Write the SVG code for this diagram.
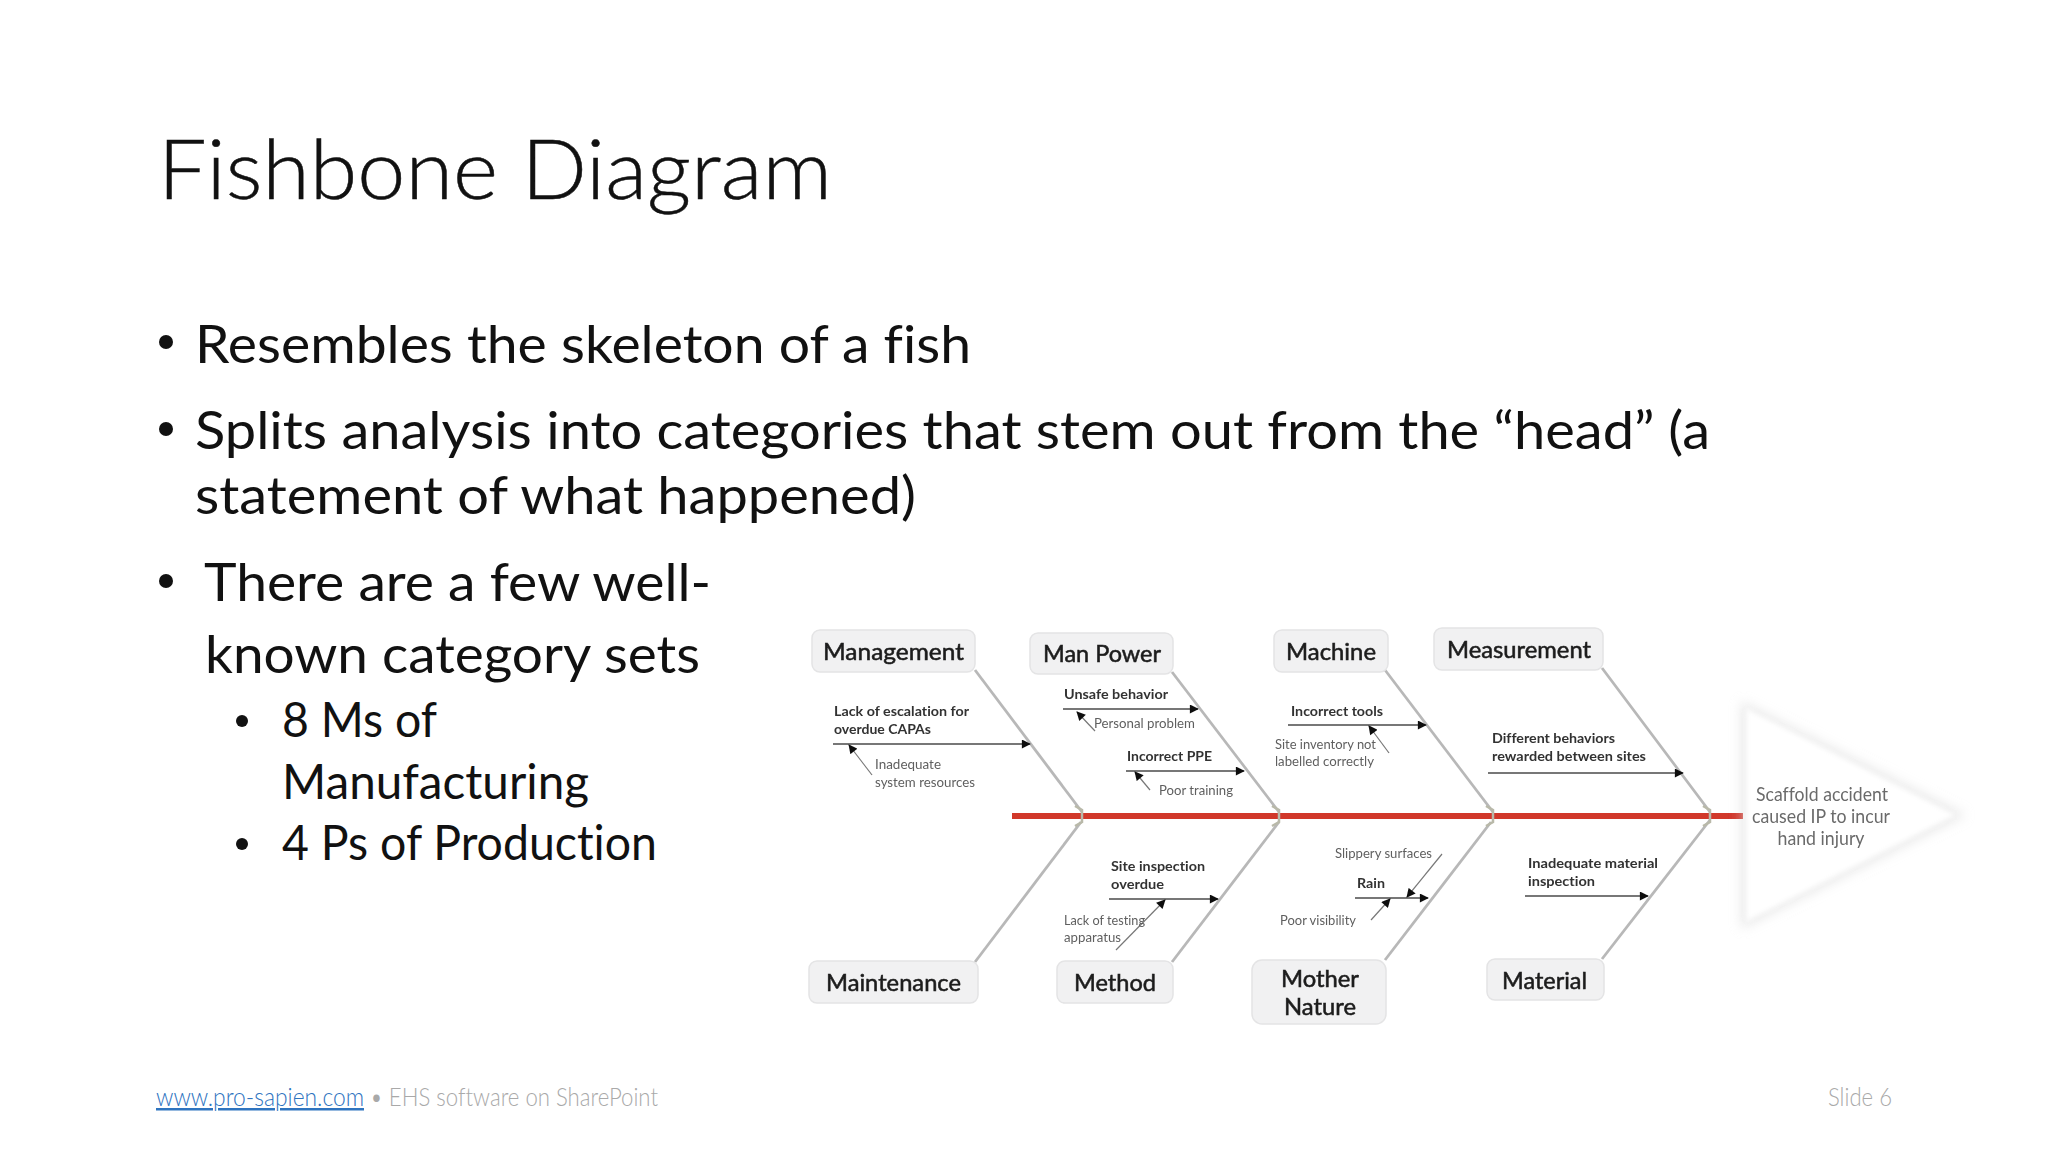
<svg xmlns="http://www.w3.org/2000/svg" width="2048" height="1152" viewBox="0 0 2048 1152">
<style>
text{font-family:Lato,"Open Sans","Liberation Sans",sans-serif;white-space:pre;font-variant-ligatures:none}
.title{font-size:82px;font-weight:300;fill:#111;stroke:#111;stroke-width:.5}
.body{font-size:53px;fill:#111}
.sub{font-size:48px;fill:#111}
.foot{font-size:25px;font-weight:300;fill:#a9a9a9}
.link{font-size:25px;font-weight:300;fill:#2f74bf;text-decoration:underline}
.box{fill:#f1f1f2;stroke:#e4e4e5;stroke-width:1.5}
.cat{font-size:24px;fill:#1c1c1c;stroke:#1c1c1c;stroke-width:.55}
.cause{font-size:14px;font-weight:700;fill:#333}
.why{font-size:13.5px;fill:#5f5f5f}
.bone{stroke:#b8b8b8;stroke-width:2.8;fill:none}
.sub-bone{stroke:#777;stroke-width:1.8;fill:none;marker-end:url(#ah)}
.why-line{stroke:#777;stroke-width:1.2;fill:none;marker-end:url(#ah)}
.head-text{font-size:19px;font-weight:400;fill:#6a6a6a;text-anchor:middle}
</style>
<defs>
<marker id="ah" viewBox="0 0 10 10" refX="9" refY="5" markerWidth="10" markerHeight="9" markerUnits="userSpaceOnUse" orient="auto"><path d="M0 0L10 5L0 10z" fill="#111"/></marker>
<filter id="soft" x="-2%" y="-2%" width="104%" height="104%"><feGaussianBlur stdDeviation="0.55"/></filter>
<filter id="shadow" x="-20%" y="-20%" width="140%" height="140%"><feGaussianBlur stdDeviation="6"/></filter>
<filter id="edge" x="-5%" y="-5%" width="110%" height="110%"><feGaussianBlur stdDeviation="2.5"/></filter>
</defs>
<rect width="2048" height="1152" fill="#fff"/>

<g id="slide-text">
<text class="title" x="158" y="199" textLength="674" lengthAdjust="spacingAndGlyphs">Fishbone Diagram</text>
<circle cx="166" cy="342" r="7" fill="#111"/>
<text class="body" x="195" y="363" textLength="776" lengthAdjust="spacingAndGlyphs">Resembles the skeleton of a fish</text>
<circle cx="166" cy="429" r="7" fill="#111"/>
<text class="body" x="195" y="449" textLength="1515" lengthAdjust="spacingAndGlyphs">Splits analysis into categories that stem out from the “head” (a</text>
<text class="body" x="195" y="514" textLength="721" lengthAdjust="spacingAndGlyphs">statement of what happened)</text>
<circle cx="166" cy="581" r="7" fill="#111"/>
<text class="body" x="204" y="601" textLength="507" lengthAdjust="spacingAndGlyphs">There are a few well-</text>
<text class="body" x="205" y="673" textLength="495" lengthAdjust="spacingAndGlyphs">known category sets</text>
<circle cx="242" cy="721" r="6" fill="#111"/>
<text class="sub" x="282" y="737" textLength="155" lengthAdjust="spacingAndGlyphs">8 Ms of</text>
<text class="sub" x="282" y="799" textLength="307" lengthAdjust="spacingAndGlyphs">Manufacturing</text>
<circle cx="242" cy="844" r="6" fill="#111"/>
<text class="sub" x="282" y="860" textLength="375" lengthAdjust="spacingAndGlyphs">4 Ps of Production</text>
<text class="link" x="156" y="1106" textLength="208" lengthAdjust="spacingAndGlyphs">www.pro-sapien.com</text>
<text class="foot" x="370" y="1106" textLength="288" lengthAdjust="spacingAndGlyphs">• EHS software on SharePoint</text>
<text class="foot" x="1828" y="1106" textLength="64" lengthAdjust="spacingAndGlyphs">Slide 6</text>
</g>

<g filter="url(#soft)">
<g id="connectors">
<path d="M1012 816H1743" stroke="#d1372c" stroke-width="6" fill="none"/>
<path class="bone" d="M975 670L1082 812"/>
<path class="bone" d="M1172 672L1279 812"/>
<path class="bone" d="M1385 670L1493 812"/>
<path class="bone" d="M1602 668L1710 812"/>
<path class="bone" d="M975 962L1081 822"/>
<path class="bone" d="M1172 962L1279 822"/>
<path class="bone" d="M1385 960L1491 822"/>
<path class="bone" d="M1602 959L1710 820"/>
<path d="M1075 806L1082 810L1082 822L1075 826M1272 806L1279 810L1279 822L1272 826M1486 806L1493 810L1493 822L1486 826M1703 806L1710 810L1710 822L1703 826" stroke="#b9b9a9" stroke-width="2.5" fill="none"/>
<path class="sub-bone" d="M833 744H1030"/>
<path class="why-line" d="M872 775L849 745"/>
<path class="sub-bone" d="M1063 709H1198"/>
<path class="why-line" d="M1095 731L1077 712"/>
<path class="sub-bone" d="M1126 771H1244"/>
<path class="why-line" d="M1150 790L1135 772"/>
<path class="sub-bone" d="M1288 725H1426"/>
<path class="why-line" d="M1389 753L1369 726"/>
<path class="sub-bone" d="M1488 773H1683"/>
<path class="sub-bone" d="M1109 899H1218"/>
<path class="why-line" d="M1116 950L1165 900"/>
<path class="sub-bone" d="M1355 898H1428"/>
<path class="why-line" d="M1442 854L1407 897"/>
<path class="why-line" d="M1371 920L1390 899"/>
<path class="sub-bone" d="M1525 896H1648"/>
</g>

<g id="node-management"><rect class="box" x="812" y="630" width="163" height="42" rx="8"/><text class="cat" x="823" y="660" textLength="141" lengthAdjust="spacingAndGlyphs">Management</text></g>
<g id="node-man-power"><rect class="box" x="1030" y="633" width="143" height="41" rx="8"/><text class="cat" x="1043" y="662" textLength="118" lengthAdjust="spacingAndGlyphs">Man Power</text></g>
<g id="node-machine"><rect class="box" x="1274" y="630" width="114" height="42" rx="8"/><text class="cat" x="1286" y="660" textLength="90" lengthAdjust="spacingAndGlyphs">Machine</text></g>
<g id="node-measurement"><rect class="box" x="1434" y="628" width="169" height="42" rx="8"/><text class="cat" x="1447" y="658" textLength="144" lengthAdjust="spacingAndGlyphs">Measurement</text></g>
<g id="node-maintenance"><rect class="box" x="809" y="961" width="169" height="42" rx="8"/><text class="cat" x="826" y="991" textLength="135" lengthAdjust="spacingAndGlyphs">Maintenance</text></g>
<g id="node-method"><rect class="box" x="1057" y="961" width="116" height="42" rx="8"/><text class="cat" x="1074" y="991" textLength="82" lengthAdjust="spacingAndGlyphs">Method</text></g>
<g id="node-mother-nature"><rect class="box" x="1252" y="960" width="134" height="64" rx="10"/><text class="cat" x="1281" y="987" textLength="78" lengthAdjust="spacingAndGlyphs">Mother</text><text class="cat" x="1284" y="1015" textLength="72" lengthAdjust="spacingAndGlyphs">Nature</text></g>
<g id="node-material"><rect class="box" x="1487" y="959" width="117" height="41" rx="8"/><text class="cat" x="1502" y="989" textLength="85" lengthAdjust="spacingAndGlyphs">Material</text></g>

<g id="node-causes">
<text class="cause" x="834" y="716" textLength="135" lengthAdjust="spacingAndGlyphs">Lack of escalation for</text>
<text class="cause" x="834" y="734" textLength="97" lengthAdjust="spacingAndGlyphs">overdue CAPAs</text>
<text class="why" x="875" y="769" textLength="66" lengthAdjust="spacingAndGlyphs">Inadequate</text>
<text class="why" x="875" y="787" textLength="100" lengthAdjust="spacingAndGlyphs">system resources</text>
<text class="cause" x="1064" y="699" textLength="104" lengthAdjust="spacingAndGlyphs">Unsafe behavior</text>
<text class="why" x="1094" y="728" textLength="101" lengthAdjust="spacingAndGlyphs">Personal problem</text>
<text class="cause" x="1127" y="761" textLength="85" lengthAdjust="spacingAndGlyphs">Incorrect PPE</text>
<text class="why" x="1159" y="795" textLength="74" lengthAdjust="spacingAndGlyphs">Poor training</text>
<text class="cause" x="1291" y="716" textLength="92" lengthAdjust="spacingAndGlyphs">Incorrect tools</text>
<text class="why" x="1275" y="749" textLength="101" lengthAdjust="spacingAndGlyphs">Site inventory not</text>
<text class="why" x="1275" y="766" textLength="99" lengthAdjust="spacingAndGlyphs">labelled correctly</text>
<text class="cause" x="1492" y="743" textLength="123" lengthAdjust="spacingAndGlyphs">Different behaviors</text>
<text class="cause" x="1492" y="761" textLength="154" lengthAdjust="spacingAndGlyphs">rewarded between sites</text>
<text class="cause" x="1111" y="871" textLength="94" lengthAdjust="spacingAndGlyphs">Site inspection</text>
<text class="cause" x="1111" y="889" textLength="53" lengthAdjust="spacingAndGlyphs">overdue</text>
<text class="why" x="1064" y="925" textLength="81" lengthAdjust="spacingAndGlyphs">Lack of testing</text>
<text class="why" x="1064" y="942" textLength="57" lengthAdjust="spacingAndGlyphs">apparatus</text>
<text class="why" x="1335" y="858" textLength="97" lengthAdjust="spacingAndGlyphs">Slippery surfaces</text>
<text class="cause" x="1357" y="888" textLength="28" lengthAdjust="spacingAndGlyphs">Rain</text>
<text class="why" x="1280" y="925" textLength="76" lengthAdjust="spacingAndGlyphs">Poor visibility</text>
<text class="cause" x="1528" y="868" textLength="130" lengthAdjust="spacingAndGlyphs">Inadequate material</text>
<text class="cause" x="1528" y="886" textLength="67" lengthAdjust="spacingAndGlyphs">inspection</text>
</g>

<g id="node-head">
<path d="M1741 701L1966 815L1741 929z" fill="#d4d4d4" opacity=".5" filter="url(#shadow)"/>
<path d="M1746 708L1956 815L1746 922z" fill="#fff" filter="url(#edge)"/>
<text class="head-text" x="1822" y="801" textLength="132" lengthAdjust="spacingAndGlyphs">Scaffold accident</text>
<text class="head-text" x="1821" y="823" textLength="138" lengthAdjust="spacingAndGlyphs">caused IP to incur</text>
<text class="head-text" x="1821" y="845" textLength="87" lengthAdjust="spacingAndGlyphs">hand injury</text>
</g>
</g>
</svg>
